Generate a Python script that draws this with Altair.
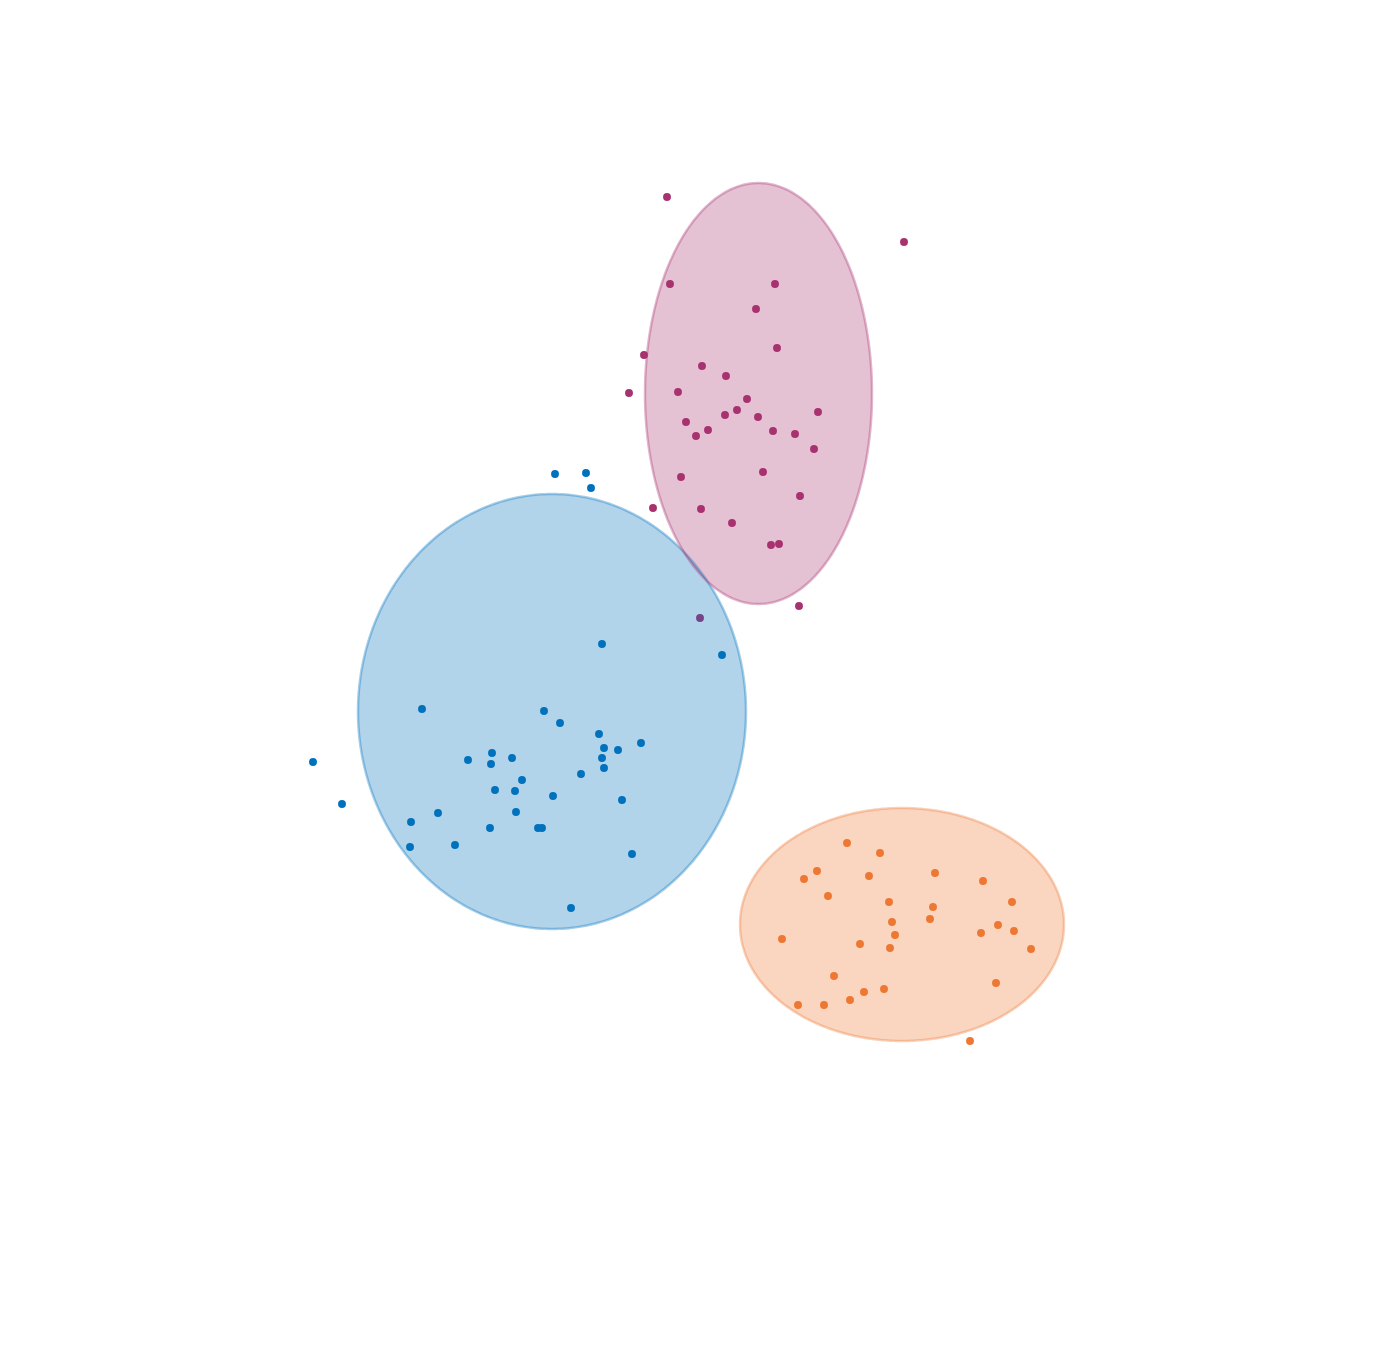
import altair as alt
import numpy as np
import pandas as pd

W, H = 1395, 1359

groups = ["A", "B", "C"]
colors = ["#0072bd", "#a8326f", "#ee7733"]

# cluster A (blue)
a_x = [555, 586, 591, 602, 722, 422, 544, 560, 599, 641, 604, 618, 602, 604, 313, 468, 492, 491, 512, 522,
       495, 515, 581, 553, 622, 342, 438, 411, 516, 490, 538, 542, 410, 455, 632, 571]
a_y = [474, 473, 488, 644, 655, 709, 711, 723, 734, 743, 748, 750, 758, 768, 762, 760, 753, 764, 758, 780,
       790, 791, 774, 796, 800, 804, 813, 822, 812, 828, 828, 828, 847, 845, 854, 908]
# cluster B (magenta)
b_x = [667, 904, 670, 775, 756, 644, 777, 702, 726, 629, 678, 747, 737, 725, 758, 818, 686, 708, 696, 773,
       795, 814, 681, 763, 800, 653, 701, 732, 771, 779, 799, 700]
b_y = [197, 242, 284, 284, 309, 355, 348, 366, 376, 393, 392, 399, 410, 415, 417, 412, 422, 430, 436, 431,
       434, 449, 477, 472, 496, 508, 509, 523, 545, 544, 606, 618]
# cluster C (orange)
c_x = [847, 880, 817, 804, 869, 935, 983, 828, 889, 1012, 933, 930, 892, 998, 895, 981, 1014, 782, 860, 890,
       1031, 834, 996, 884, 864, 850, 798, 824, 970]
c_y = [843, 853, 871, 879, 876, 873, 881, 896, 902, 902, 907, 919, 922, 925, 935, 933, 931, 939, 944, 948,
       949, 976, 983, 989, 992, 1000, 1005, 1005, 1041]

# ellipse parameters: center x, center y, half-width, half-height
ell_cx = [552, 758.5, 902]
ell_cy = [711.5, 393.5, 924.5]
ell_rx = [194, 113.5, 162]
ell_ry = [217.5, 210.5, 116.5]

pts = pd.DataFrame({
    "x": a_x + b_x + c_x,
    "y": a_y + b_y + c_y,
    "g": ["A"] * len(a_x) + ["B"] * len(b_x) + ["C"] * len(c_x),
})

area_rows, line_rows = [], []
for g, cx, cy, rx, ry in zip(groups, ell_cx, ell_cy, ell_rx, ell_ry):
    for t in np.linspace(0, np.pi, 181):
        x = cx + rx * np.cos(t)
        dy = ry * np.sin(t)
        area_rows.append({"g": g, "x": x, "y1": cy - dy, "y2": cy + dy})
    for i, t in enumerate(np.linspace(0, 2 * np.pi, 361)):
        line_rows.append({"g": g, "o": i, "x": cx + rx * np.cos(t), "y": cy + ry * np.sin(t)})
areas = pd.DataFrame(area_rows)
lines = pd.DataFrame(line_rows)

xs = alt.Scale(domain=[0, W], nice=False, zero=False)
ys = alt.Scale(domain=[0, H], nice=False, zero=False, reverse=True)
cs = alt.Scale(domain=groups, range=colors)

points = alt.Chart(pts).mark_circle(size=62, opacity=1).encode(
    x=alt.X("x:Q", scale=xs, axis=None),
    y=alt.Y("y:Q", scale=ys, axis=None),
    color=alt.Color("g:N", scale=cs, legend=None),
)

fills = alt.Chart(areas).mark_area(opacity=0.3, interpolate="linear").encode(
    x=alt.X("x:Q", scale=xs, axis=None),
    y=alt.Y("y1:Q", scale=ys, axis=None),
    y2="y2:Q",
    color=alt.Color("g:N", scale=cs, legend=None),
    detail="g:N",
)

outlines = alt.Chart(lines).mark_line(strokeWidth=2.5, opacity=0.35).encode(
    x=alt.X("x:Q", scale=xs, axis=None),
    y=alt.Y("y:Q", scale=ys, axis=None),
    color=alt.Color("g:N", scale=cs, legend=None),
    detail="g:N",
    order="o:Q",
)

chart = alt.layer(points, fills, outlines).properties(
    width=W, height=H,
    autosize=alt.AutoSizeParams(type="fit", contains="padding"),
    padding=0,
    background="white",
).configure_view(stroke=None, strokeWidth=0)

chart.save("out.html", embed_options={"renderer": "svg", "actions": False})
